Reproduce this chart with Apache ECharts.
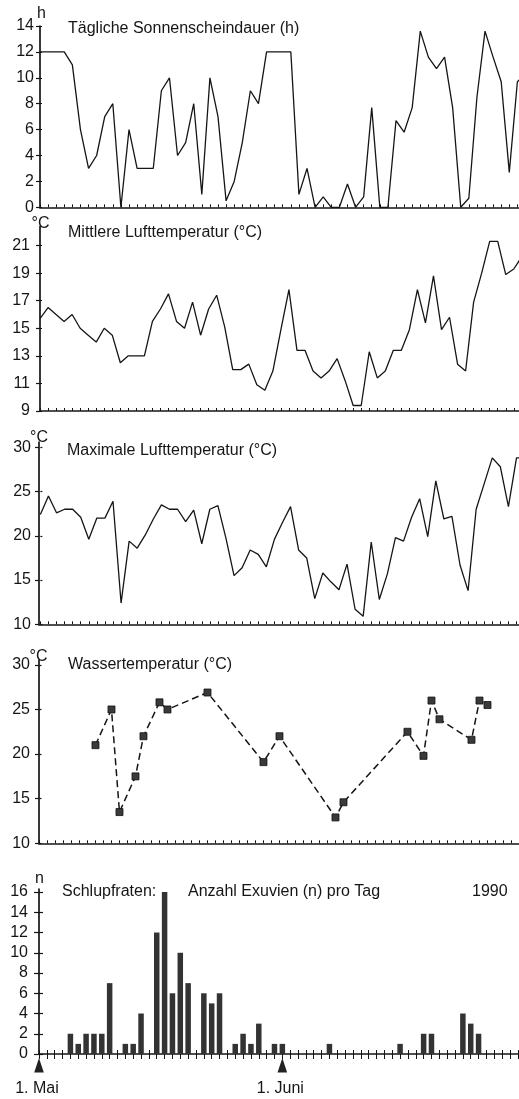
<!DOCTYPE html>
<html><head><meta charset="utf-8">
<script src="https://cdn.jsdelivr.net/npm/echarts@6/dist/echarts.min.js"></script>
<style>html,body{margin:0;padding:0;background:#fff}#c{width:519px;height:1099px}</style>
</head><body><div id="c"></div>
<script>
// ---- data (day 0 = 1. Mai 1990) ----
const sunshine = [12,12,12,12,11,6,3,4,7,8,0,6,3,3,3,9,10,4,5,8,1,10,7,0.5,2,5,9,8,12,12,12,12,1,3,0,0.8,0,0,1.8,0,0.8,7.7,0,0,6.7,5.8,7.7,13.6,11.6,10.7,11.6,7.7,0,0.7,8.5,13.6,11.6,9.7,2.7,9.7,10.3];
const meanTemp = [15.7,16.5,16.0,15.5,16.0,15.0,14.5,14.0,15.0,14.5,12.5,13.0,13.0,13.0,15.5,16.4,17.5,15.5,15.0,16.9,14.5,16.4,17.4,15.1,12.0,12.0,12.4,10.9,10.5,11.9,14.9,17.8,13.4,13.4,11.9,11.4,11.9,12.8,11.2,9.4,9.4,13.3,11.4,11.9,13.4,13.4,14.9,17.8,15.4,18.8,14.9,15.8,12.4,11.9,16.9,19.0,21.3,21.3,18.9,19.3,20.2];
const maxTemp = [22.4,24.5,22.6,23.0,23.0,22.1,19.6,22.0,22.0,23.9,12.4,19.4,18.6,20.1,21.9,23.5,23.0,23.0,21.6,22.9,19.1,23.0,23.4,19.7,15.5,16.4,18.4,17.9,16.5,19.6,21.5,23.3,18.4,17.5,12.9,15.8,14.8,13.9,16.8,11.7,10.9,19.3,12.8,15.7,19.8,19.4,22.1,24.2,19.9,26.2,21.9,22.2,16.7,13.8,23.0,25.9,28.8,27.8,23.3,28.8,28.8];
const waterDays = [7,9,10,12,13,15,16,21,28,30,37,38,46,48,49,50,54,55,56];
const waterTemp = [21.0,25.0,13.5,17.5,22.0,25.8,25.0,26.9,19.1,22.0,12.9,14.6,22.5,19.8,26.0,23.9,21.6,26.0,25.5];
const exuvienDays = [4,5,6,7,8,9,11,12,13,15,16,17,18,19,21,22,23,25,26,27,28,30,31,37,46,49,50,54,55,56];
const exuvienCount = [2,1,2,2,2,7,1,1,4,12,16,6,10,7,6,5,6,1,2,1,3,1,1,1,1,2,2,4,3,2];
// ---- tick labels ----
const sunTicks = [0,2,4,6,8,10,12,14];
const meanTicks = [9,11,13,15,17,19,21];
const maxTicks = [10,15,20,25,30];
const waterTicks = [10,15,20,25,30];
const exuvienTicks = [0,2,4,6,8,10,12,14,16];
const dateMarks = [{day:0,label:'1. Mai'},{day:31,label:'1. Juni'}];
const titles = ['Tägliche Sonnenscheindauer (h)','Mittlere Lufttemperatur (°C)','Maximale Lufttemperatur (°C)','Wassertemperatur (°C)','Schlupfraten:'];
const units = ['h','°C','°C','°C','n'];

const dayTicks = [];
for (let d = 0; d <= 61; d++) dayTicks.push(d);

const FONT = '"Liberation Sans", Arial, Helvetica, sans-serif';
const INK = '#151515';

const panels = [
  {grid:{left:40, top:26, height:181.3}, x:[0,59.2], y:[0,14], ticks:sunTicks, margin:6, yOut:4, yIn:2},
  {grid:{left:40, top:226.7, height:184.3}, x:[0,59.65], y:[9,22.37], ticks:meanTicks, margin:10, yOut:4, yIn:2},
  {grid:{left:39, top:442, height:182.3}, x:[-0.17,59.31], y:[10,30.6], ticks:maxTicks, margin:8, yOut:4, yIn:2},
  {grid:{left:39, top:660.4, height:182.9}, x:[-0.06,59.94], y:[10,30.5], ticks:waterTicks, margin:9, yOut:4, yIn:2},
  {grid:{left:39, top:889, height:165}, x:[0,61.15], y:[0,16.3], ticks:exuvienTicks, margin:11, yOut:5, yIn:4}
];

const grid = [], xAxis = [], yAxis = [];
panels.forEach((p, i) => {
  grid.push(Object.assign({right:0, outerBoundsMode:'none', containLabel:false}, p.grid));
  xAxis.push({
    type:'value', gridIndex:i, min:p.x[0], max:p.x[1], position:'bottom',
    axisLine:{show:true, onZero:false, lineStyle:{color:INK, width:1.7}},
    axisTick:{show:true, inside: i < 4, length: i < 4 ? 3 : 5, customValues:dayTicks, lineStyle:{color:INK, width:1}},
    axisLabel:{show:false}, splitLine:{show:false}
  });
  yAxis.push({
    type:'value', gridIndex:i, min:p.y[0], max:p.y[1], position:'left',
    axisLine:{show:true, onZero:false, lineStyle:{color:INK, width:1.7}},
    axisTick:{show:true, inside:false, length:p.yOut, customValues:p.ticks, lineStyle:{color:INK, width:1.2}},
    axisLabel:{show:true, customValues:p.ticks, margin:p.margin, color:INK, fontFamily:FONT, fontSize:16},
    splitLine:{show:false}
  });
});
// inner halves of crossing ticks
panels.forEach((p, i) => {
  yAxis.push({
    type:'value', gridIndex:i, min:p.y[0], max:p.y[1], position:'left',
    axisLine:{show:false}, axisLabel:{show:false}, splitLine:{show:false},
    axisTick:{show:true, inside:true, length:p.yIn, customValues:p.ticks, lineStyle:{color:INK, width:1.2}}
  });
});
xAxis.push({
  type:'value', gridIndex:4, min:panels[4].x[0], max:panels[4].x[1], position:'bottom',
  axisLine:{show:false}, axisLabel:{show:false}, splitLine:{show:false},
  axisTick:{show:true, inside:true, length:4, customValues:dayTicks, lineStyle:{color:INK, width:1}}
});

const lineStyle = {color:INK, width:1.3};
const series = [
  {type:'line', xAxisIndex:0, yAxisIndex:0, data:sunshine.map((v,i)=>[i,v]), symbol:'none', lineStyle, clip:true},
  {type:'line', xAxisIndex:1, yAxisIndex:1, data:meanTemp.map((v,i)=>[i,v]), symbol:'none', lineStyle, clip:true},
  {type:'line', xAxisIndex:2, yAxisIndex:2, data:maxTemp.map((v,i)=>[i,v]), symbol:'none', lineStyle, clip:true},
  {type:'line', xAxisIndex:3, yAxisIndex:3, data:waterDays.map((d,i)=>[d,waterTemp[i]]),
    symbol:'rect', symbolSize:7, itemStyle:{color:'#3a3a3a', borderColor:'#111', borderWidth:0.8},
    lineStyle:{color:INK, width:1.5, type:[7,4]}, clip:true},
  {type:'bar', xAxisIndex:4, yAxisIndex:4, data:exuvienDays.map((d,i)=>[d,exuvienCount[i]]),
    barWidth:5.5, itemStyle:{color:'#333333'}}
];

const chart = echarts.init(document.getElementById('c'), null, {renderer:'canvas'});
chart.setOption({backgroundColor:'#ffffff', animation:false, grid, xAxis, yAxis, series});

const txt = (text, x, y, opts) => ({type:'text', x, y, silent:true,
  style:Object.assign({text, fill:INK, font:'15px ' + FONT, textAlign:'left', textVerticalAlign:'middle'}, opts||{})});
const titleY = [28.5, 232.5, 451, 664.5, 891.7];
const titleX = [68, 68, 67, 68, 62];
const unitPos = [[41.5,13.5],[40.5,224],[39,437.5],[38.5,657],[39.5,878.5]];
const graphic = [];
titles.forEach((t,i)=>graphic.push(txt(t, titleX[i], titleY[i], {font:'16px ' + FONT})));
units.forEach((u,i)=>graphic.push(txt(u, unitPos[i][0], unitPos[i][1], {font:'16px ' + FONT, textAlign:'center'})));
graphic.push(txt('Anzahl Exuvien (n) pro Tag', 188, 891.7, {font:'16px ' + FONT}));
graphic.push(txt('1990', 472, 891.7, {font:'16px ' + FONT}));
const y0 = chart.convertToPixel({yAxisIndex:4}, 0);
dateMarks.forEach(m => {
  const px = chart.convertToPixel({xAxisIndex:4}, m.day);
  graphic.push({type:'polygon', silent:true, shape:{points:[[px, y0+4],[px-4.8, y0+18.5],[px+4.8, y0+18.5]]}, style:{fill:'#222'}});
  graphic.push(txt(m.label, px - 2, y0+35, {textAlign:'center', font:'16px ' + FONT}));
});
chart.setOption({graphic});
</script></body></html>
